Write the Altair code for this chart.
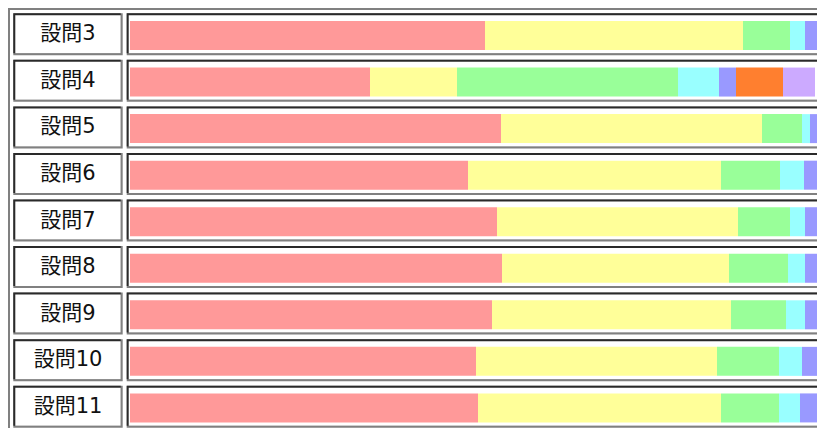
import altair as alt
import pandas as pd

questions = ["設問3", "設問4", "設問5", "設問6", "設問7", "設問8", "設問9", "設問10", "設問11"]
answers = ["A", "B", "C", "D", "E", "F", "G"]
colors = ["#ff9999", "#ffff99", "#99ff99", "#99ffff", "#9999ff", "#ff7f2f", "#ccaaff"]

val_a = [355, 240, 371, 338, 367, 372, 362, 346, 348]
val_b = [258, 87, 261, 253, 241, 227, 239, 241, 243]
val_c = [47, 221, 40, 59, 52, 59, 55, 62, 58]
val_d = [15, 41, 8, 24, 15, 17, 19, 23, 21]
val_e = [12, 17, 7, 13, 12, 12, 12, 16, 17]
val_f = [0, 47, 0, 0, 0, 0, 0, 0, 0]
val_g = [0, 32, 0, 0, 0, 0, 0, 0, 0]

series = [val_a, val_b, val_c, val_d, val_e, val_f, val_g]
rows = []
for qi, q in enumerate(questions):
    acc = 0
    for k, (ans, vals) in enumerate(zip(answers, series)):
        v = vals[qi]
        rows.append({"q": q, "ans": ans, "order": k, "start": acc, "end": acc + v})
        acc += v
bars_df = pd.DataFrame(rows)
q_df = pd.DataFrame({"q": questions})

W, H = 809, 420
yscale = alt.Scale(domain=questions, range=[3.03, 422.0], paddingInner=0, paddingOuter=0)
Y = alt.Y("q:N", scale=yscale, axis=None, sort=questions)

base = alt.Chart(q_df)

def cell(x1, x2, dark="#2a2a2a", gray="#808080"):
    outer = base.mark_bar(height=42, color=gray).encode(x=alt.value(x1), x2=alt.value(x2), y=Y)
    d = base.mark_bar(height=40, yOffset=-1, color=dark).encode(x=alt.value(x1), x2=alt.value(x2 - 2), y=Y)
    inner = base.mark_bar(height=38, color="white").encode(x=alt.value(x1 + 2), x2=alt.value(x2 - 2), y=Y)
    return [outer, d, inner]

layers = []
layers.append(base.mark_rect(color="#808080").encode(x=alt.value(0), x2=alt.value(W), y=alt.value(0), y2=alt.value(2)))
layers.append(base.mark_rect(color="#808080").encode(x=alt.value(0), x2=alt.value(2), y=alt.value(0), y2=alt.value(H)))
layers += cell(5.3, 114.7)
layers += cell(118.7, 816)

bars = alt.Chart(bars_df).mark_bar(height=29, yOffset=1.2).encode(
    x=alt.X("start:Q", axis=None, scale=alt.Scale(domain=[-122, 687], nice=False, zero=False)),
    x2="end:Q",
    y=Y,
    color=alt.Color("ans:N", scale=alt.Scale(domain=answers, range=colors), legend=None),
)
layers.append(bars)

labels = base.mark_text(font="DejaVu Sans, Noto Sans CJK JP", fontSize=21, color="#111111",
                        align="center", baseline="middle").encode(
    x=alt.value(60), y=Y, text="q:N")
layers.append(labels)

chart = alt.layer(*layers).properties(
    width=W, height=H, padding=0, autosize=alt.AutoSizeParams(type="none"), background="white"
).configure_view(strokeWidth=0)

chart.save("out.html", embed_options={"renderer": "svg", "actions": False})
